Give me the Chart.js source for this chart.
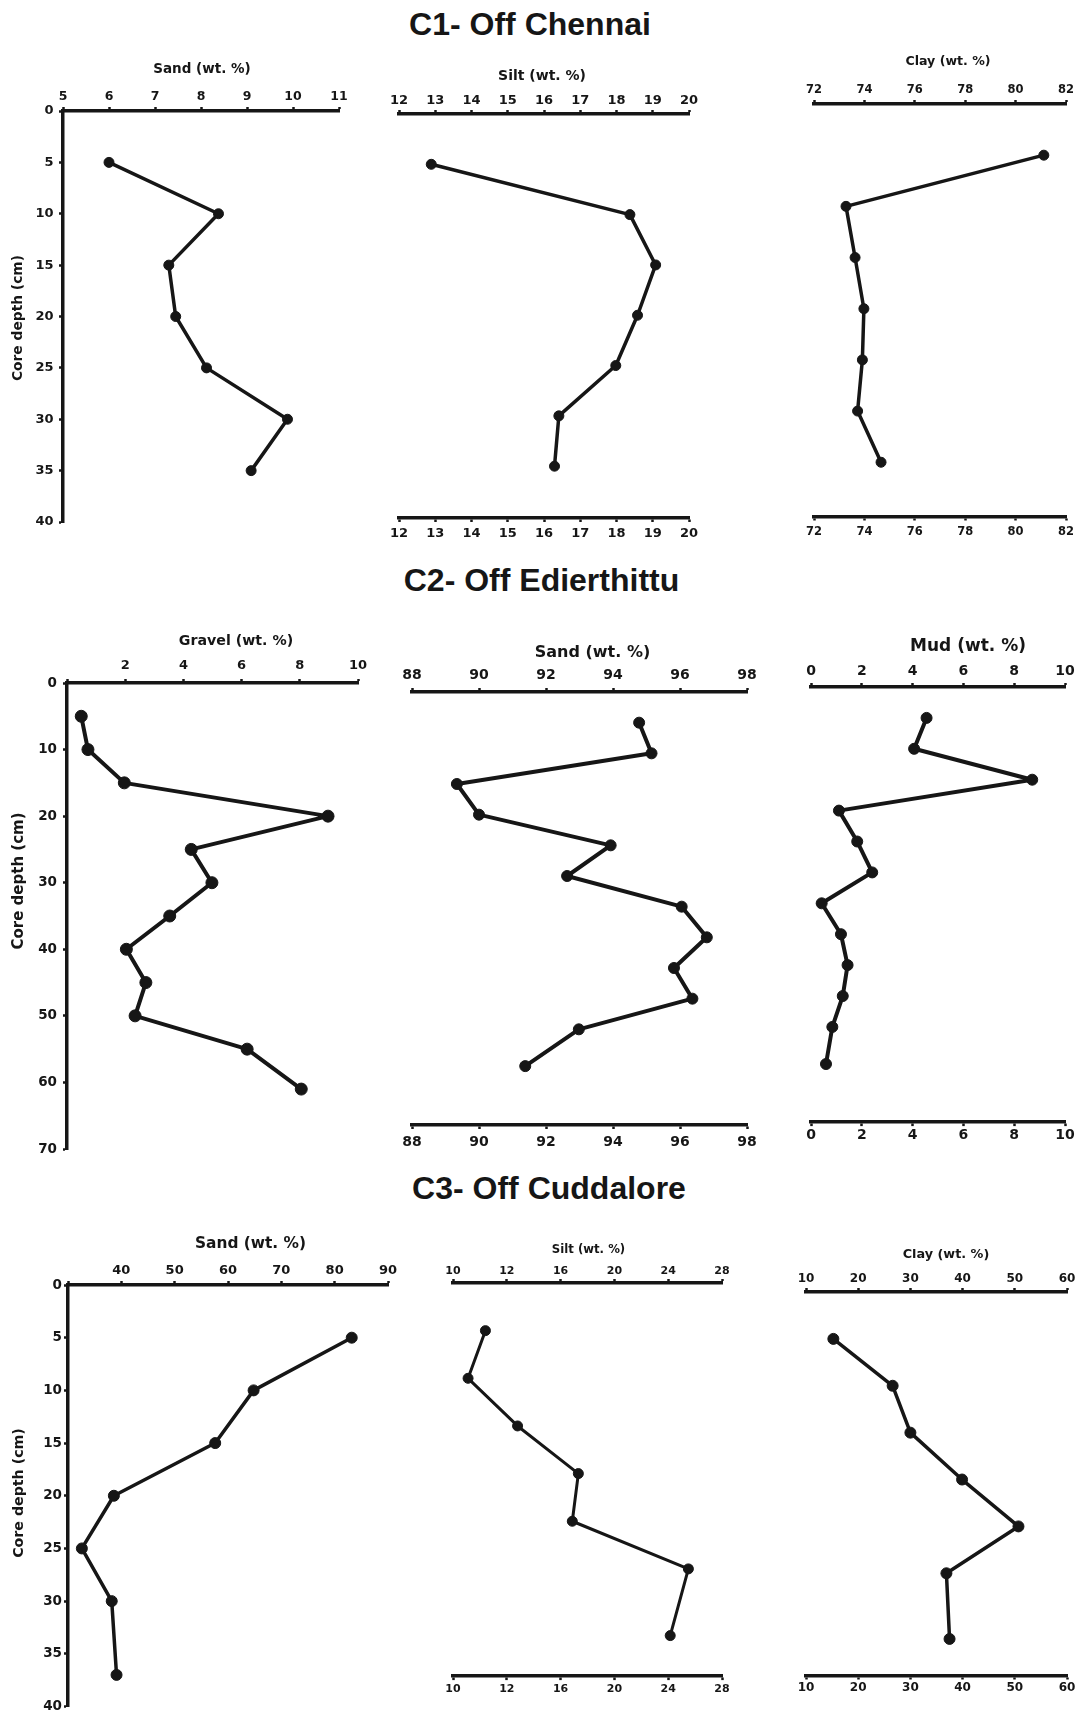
<!DOCTYPE html>
<html>
<head>
<meta charset="utf-8">
<script src="https://cdn.jsdelivr.net/npm/chart.js@4.4.1/dist/chart.umd.min.js"></script>
<style>
html,body{margin:0;padding:0;background:#fff;width:1080px;height:1713px;overflow:hidden;position:relative;}
canvas{position:absolute;}
.h{position:absolute;font-family:'Liberation Sans',Arial,sans-serif;font-weight:bold;font-size:32px;line-height:32px;color:#161616;white-space:nowrap;transform:translate(-50%,-50%);}
.t{position:absolute;font-family:'DejaVu Sans',sans-serif;font-weight:bold;line-height:1;color:#161616;white-space:nowrap;transform:translate(-50%,-50%);}
.v{transform:translate(-50%,-50%) rotate(-90deg);}
</style>
</head>
<body>
<script>
// ---------------- DATA ----------------
const sectionTitles = ['C1- Off Chennai', 'C2- Off Edierthittu', 'C3- Off Cuddalore'];
const depthTitle = 'Core depth (cm)';

// C1 - Off Chennai
const depthsC1 = [5, 10, 15, 20, 25, 30, 35];
const c1Sand = [6.0, 8.38, 7.30, 7.45, 8.12, 9.88, 9.09];
const c1Silt = [12.89, 18.37, 19.08, 18.58, 17.98, 16.41, 16.29];
const c1Clay = [81.12, 73.27, 73.63, 73.98, 73.92, 73.73, 74.66];

// C2 - Off Edierthittu
const depthsC2 = [5, 10, 15, 20, 25, 30, 35, 40, 45, 50, 55, 61];
const c2Gravel = [0.49, 0.72, 1.97, 8.97, 4.27, 4.98, 3.53, 2.04, 2.71, 2.34, 6.19, 8.05];
const c2Sand = [94.78, 95.15, 89.34, 90.0, 93.93, 92.63, 96.05, 96.8, 95.82, 96.37, 92.98, 91.38];
const c2Mud = [4.55, 4.06, 8.71, 1.10, 1.82, 2.41, 0.42, 1.18, 1.44, 1.25, 0.84, 0.59];

// C3 - Off Cuddalore
const depthsC3 = [5, 10, 15, 20, 25, 30, 37];
const c3Sand = [83.2, 64.8, 57.6, 38.6, 32.6, 38.2, 39.1];
const c3Silt = [10.41, 9.12, 12.8, 17.32, 16.87, 25.5, 24.15];
const c3Clay = [15.24, 26.6, 30.0, 39.9, 50.7, 36.9, 37.5];

// tick labels
const c1SandTicks = ['5', '6', '7', '8', '9', '10', '11'];
const c1SiltTicks = ['12', '13', '14', '15', '16', '17', '18', '19', '20'];
const c1ClayTicks = ['72', '74', '76', '78', '80', '82'];
const c2GravelTicks = ['', '2', '4', '6', '8', '10'];
const c2SandTicks = ['88', '90', '92', '94', '96', '98'];
const c2MudTicks = ['0', '2', '4', '6', '8', '10'];
const c3SandTicks = ['', '40', '50', '60', '70', '80', '90'];
const c3SiltTicks = ['10', '12', '16', '20', '24', '28'];
const c3ClayTicks = ['10', '20', '30', '40', '50', '60'];
const depthTicks40 = ['0', '5', '10', '15', '20', '25', '30', '35', '40'];
const depthTicks70 = ['0', '10', '20', '30', '40', '50', '60', '70'];

// ---------------- LAYOUT ----------------
const INK = '#161616';
const panels = [
  {depths: depthsC1, values: c1Sand, xTitle: 'Sand (wt. %)', xMin: 5, xMax: 11, xStep: 1, xTicks: c1SandTicks,
   yMax: 40, yStep: 5, yTicks: depthTicks40, showY: true, bottom: false,
   box: {l: 63, r: 339, t: 111, b: 522}, tf: 12.5, tp: 3, bp: 0, yf: 13, yp: 5.5, lw: 3.5, pr: 5,
   title: [202, 69, 13.5], yTitle: [18, 318, 13.8]},
  {depths: depthsC1, values: c1Silt, xTitle: 'Silt (wt. %)', xMin: 12, xMax: 20, xStep: 1, xTicks: c1SiltTicks,
   yMax: 40.15, yStep: 5, showY: false, bottom: true,
   box: {l: 399, r: 689, t: 114, b: 518}, tf: 13, tp: 1.9, bp: 3.7, lw: 3.5, pr: 5,
   title: [542, 74.7, 14]},
  {depths: depthsC1, values: c1Clay, xTitle: 'Clay (wt. %)', xMin: 72, xMax: 82, xStep: 2, xTicks: c1ClayTicks,
   yMax: 40.3, yStep: 5, showY: false, bottom: true,
   box: {l: 814, r: 1066, t: 104, b: 516.5}, tf: 11.5, tp: 3.5, bp: 4.6, lw: 3.5, pr: 5,
   title: [948, 61, 12.6]},
  {depths: depthsC2, values: c2Gravel, xTitle: 'Gravel (wt. %)', xMin: 0, xMax: 10, xStep: 2, xTicks: c2GravelTicks,
   yMax: 70, yStep: 10, yTicks: depthTicks70, showY: true, bottom: false,
   box: {l: 67, r: 358, t: 683, b: 1149}, tf: 13, tp: 6, bp: 0, yf: 13.5, yp: 6, lw: 4, pr: 6,
   title: [236, 640, 14.2], yTitle: [18, 881, 15]},
  {depths: depthsC2, values: c2Sand, xTitle: 'Sand (wt. %)', xMin: 88, xMax: 98, xStep: 2, xTicks: c2SandTicks,
   yMax: 70.6, yStep: 10, showY: false, bottom: true,
   box: {l: 412, r: 747, t: 691.5, b: 1124.5}, tf: 14, tp: 4, bp: 4.8, lw: 4, pr: 5.5,
   title: [592.5, 651.5, 16]},
  {depths: depthsC2, values: c2Mud, xTitle: 'Mud (wt. %)', xMin: 0, xMax: 10, xStep: 2, xTicks: c2MudTicks,
   yMax: 70.4, yStep: 10, showY: false, bottom: true,
   box: {l: 811, r: 1065, t: 687.4, b: 1122.5}, tf: 14, tp: 3.1, bp: 0.8, lw: 4, pr: 5.5,
   title: [968, 645, 17]},
  {depths: depthsC3, values: c3Sand, xTitle: 'Sand (wt. %)', xMin: 30, xMax: 90, xStep: 10, xTicks: c3SandTicks,
   yMax: 40, yStep: 5, yTicks: depthTicks40, showY: true, bottom: false,
   box: {l: 68, r: 388, t: 1284.5, b: 1706}, tf: 13, tp: 3, bp: 0, yf: 13.5, yp: 2, lw: 3.5, pr: 5.5,
   title: [250.5, 1244.3, 15.4], yTitle: [18, 1493, 14.2]},
  {depths: depthsC3, values: c3Silt, xTitle: 'Silt (wt. %)', xMin: 8, xMax: 28, xStep: 4, xTicks: c3SiltTicks,
   yMax: 41.25, yStep: 5, showY: false, bottom: true,
   box: {l: 453, r: 722, t: 1282.5, b: 1675.6}, tf: 11, tp: 1.1, bp: 2.1, lw: 3, pr: 5,
   title: [588.5, 1249.6, 11.7]},
  {depths: depthsC3, values: c3Clay, xTitle: 'Clay (wt. %)', xMin: 10, xMax: 60, xStep: 10, xTicks: c3ClayTicks,
   yMax: 40.9, yStep: 5, showY: false, bottom: true,
   box: {l: 806, r: 1067, t: 1291.5, b: 1675}, tf: 12, tp: 1.9, bp: 1.2, lw: 3.5, pr: 5.5,
   title: [946, 1254.2, 12.8]}
];
const sectionPos = [[530, 23.5], [541.5, 579.5], [549, 1188]];

function axisStyle(size) {
  return {
    border: {display: true, color: INK, width: 3.5},
    grid: {display: true, drawOnChartArea: false, drawTicks: true, tickLength: 4, tickWidth: 2.5, tickColor: INK, color: INK},
    font: {family: 'DejaVu Sans', weight: 'bold', size: size}
  };
}

// label lookup by tick value (independent of tick order)
function labelFor(labels, min, step) {
  return v => {
    const i = Math.round((v - min) / step);
    return (labels && i >= 0 && i < labels.length && Math.abs(v - (min + i * step)) < 1e-6) ? labels[i] : '';
  };
}

panels.forEach(p => {
  const L = p.showY ? p.box.l : 25;
  const R = Math.min(25, 1080 - p.box.r);
  const T = 40;
  const Bh = p.bottom ? 30 : 0;
  const B = p.bottom ? 36 : 16;
  const W = (p.box.r - p.box.l) + L + R;
  const H = Math.round((p.box.b - p.box.t) + T + B);
  const cv = document.createElement('canvas');
  cv.width = W; cv.height = H;
  cv.style.left = (p.box.l - L) + 'px';
  cv.style.top = (p.box.t - T) + 'px';
  cv.style.width = W + 'px';
  cv.style.height = H + 'px';
  document.body.appendChild(cv);
  const padB = H - T - (p.box.b - p.box.t) - Bh;

  const st = axisStyle(p.tf);
  const xBase = (pos, pad, h) => ({
    type: 'linear', axis: 'x', position: pos, min: p.xMin, max: p.xMax,
    border: st.border, grid: st.grid,
    ticks: {stepSize: p.xStep, autoSkip: false, maxRotation: 0, color: INK, padding: pad, font: st.font,
            callback: labelFor(p.xTicks, p.xMin, p.xStep)},
    afterFit: s => { s.height = h; s.paddingLeft = 0; s.paddingRight = 0; }
  });
  const scales = {x: xBase('top', p.tp, T)};
  if (p.bottom) scales.x2 = xBase('bottom', p.bp, Bh);
  const yScale = {
    type: 'linear', axis: 'y', position: 'left', reverse: true, min: 0, max: p.yMax, display: p.showY,
    border: st.border, grid: st.grid,
    ticks: {stepSize: p.yStep, autoSkip: false, color: INK, padding: p.yp || 0,
            font: {family: 'DejaVu Sans', weight: 'bold', size: p.yf || 13},
            callback: labelFor(p.yTicks, 0, p.yStep)}
  };
  if (p.showY) yScale.afterFit = s => { s.width = L; s.paddingTop = 0; s.paddingBottom = 0; };
  scales.y = yScale;

  new Chart(cv, {
    type: 'scatter',
    data: {datasets: [{
      data: p.depths.map((d, i) => ({x: p.values[i], y: d})),
      showLine: true, tension: 0, clip: false,
      borderColor: INK, borderWidth: p.lw, borderJoinStyle: 'round', borderCapStyle: 'round',
      pointRadius: p.pr, pointBackgroundColor: INK, pointBorderColor: INK, pointBorderWidth: 1,
      xAxisID: 'x', yAxisID: 'y'
    }]},
    options: {
      responsive: false, animation: false, devicePixelRatio: 1,
      layout: {autoPadding: false, padding: {left: p.showY ? 0 : L, right: R, top: 0, bottom: padB}},
      plugins: {legend: {display: false}, tooltip: {enabled: false}},
      scales: scales
    }
  });
});

// section headings and axis titles (real text)
sectionTitles.forEach((t, i) => {
  const d = document.createElement('div');
  d.className = 'h';
  d.textContent = t;
  d.style.left = sectionPos[i][0] + 'px';
  d.style.top = sectionPos[i][1] + 'px';
  document.body.appendChild(d);
});
panels.forEach(p => {
  const d = document.createElement('div');
  d.className = 't';
  d.textContent = p.xTitle;
  d.style.left = p.title[0] + 'px';
  d.style.top = p.title[1] + 'px';
  d.style.fontSize = p.title[2] + 'px';
  document.body.appendChild(d);
  if (p.yTitle) {
    const e = document.createElement('div');
    e.className = 't v';
    e.textContent = depthTitle;
    e.style.left = p.yTitle[0] + 'px';
    e.style.top = p.yTitle[1] + 'px';
    e.style.fontSize = p.yTitle[2] + 'px';
    document.body.appendChild(e);
  }
});
</script>
</body>
</html>
